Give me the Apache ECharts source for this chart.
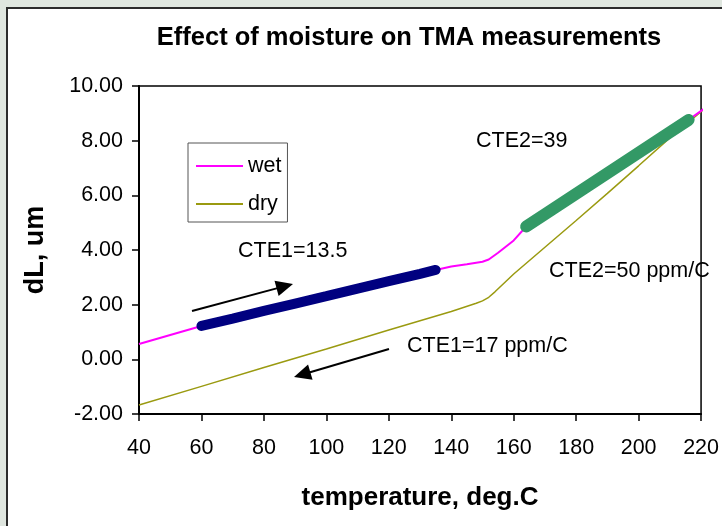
<!DOCTYPE html>
<html>
<head>
<meta charset="utf-8">
<script src="https://cdn.jsdelivr.net/npm/echarts@6/dist/echarts.min.js"></script>
<style>
html,body{margin:0;padding:0;background:#dfe6df;}
#chart{width:722px;height:526px;}
</style>
</head>
<body>
<div id="chart"></div>
<script>
// ---- data ----
var xTicks = [40, 60, 80, 100, 120, 140, 160, 180, 200, 220];
var yTicks = [-2, 0, 2, 4, 6, 8, 10];

var wetTemp = [40, 50, 60, 70, 80, 90, 100, 110, 120, 130, 135, 140, 145, 150, 152, 155, 160, 164, 170, 180, 190, 200, 210, 216, 221.6];
var wetDL   = [0.56, 0.89, 1.22, 1.49, 1.77, 2.04, 2.31, 2.59, 2.86, 3.13, 3.27, 3.4, 3.48, 3.57, 3.65, 3.9, 4.35, 4.86, 5.31, 6.06, 6.81, 7.56, 8.31, 8.76, 9.22];

var dryTemp = [40, 60, 80, 100, 120, 140, 148, 150, 152, 154, 160, 170, 180, 190, 200, 210, 221.6];
var dryDL   = [-1.67, -0.99, -0.30, 0.38, 1.07, 1.75, 2.05, 2.14, 2.27, 2.47, 3.12, 4.1, 5.08, 6.07, 7.08, 8.1, 9.22];

var fit1Range = [60, 135];   // CTE1 fit region on wet curve
var fit2Range = [164, 216];  // CTE2 fit region on wet curve

var titleText = 'Effect of moisture on TMA measurements';
var xName = 'temperature, deg.C';
var yName = 'dL, um';
var notes = ['CTE1=13.5', 'CTE2=39', 'CTE2=50 ppm/C', 'CTE1=17 ppm/C'];

// ---- build ----
function pairs(xs, ys) { return xs.map(function (x, i) { return [x, ys[i]]; }); }
function subset(xs, ys, r) {
  var out = [];
  xs.forEach(function (x, i) { if (x >= r[0] && x <= r[1]) out.push([x, ys[i]]); });
  return out;
}
var FONT = 'Liberation Sans, Arial, sans-serif';

function arrow(x1, y1, x2, y2) {
  var dx = x2 - x1, dy = y2 - y1, L = Math.sqrt(dx * dx + dy * dy);
  var ux = dx / L, uy = dy / L, hl = 17, hw = 8;
  var bx = x2 - ux * hl, by = y2 - uy * hl;
  return [
    { type: 'line', z: 50, shape: { x1: x1, y1: y1, x2: bx + ux * 2, y2: by + uy * 2 }, style: { stroke: '#000', lineWidth: 2 } },
    { type: 'polygon', z: 50, shape: { points: [[x2, y2], [bx - uy * hw, by + ux * hw], [bx + uy * hw, by - ux * hw]] }, style: { fill: '#000' } }
  ];
}

var chart = echarts.init(document.getElementById('chart'), null, { renderer: 'canvas' });

var noteFont = '21.5px ' + FONT;
var graphics = [
  { type: 'rect', z: -10, shape: { x: 7, y: 8, width: 800, height: 600 }, style: { fill: '#fff', stroke: '#2b2b2b', lineWidth: 2 } },
  { type: 'text', z: 50, x: 409, y: 38, style: { text: titleText, font: 'bold 25.5px ' + FONT, fill: '#000', textAlign: 'center', textVerticalAlign: 'middle' } },
  { type: 'text', z: 50, x: 238, y: 251, style: { text: notes[0], font: noteFont, fill: '#000', textVerticalAlign: 'middle' } },
  { type: 'text', z: 50, x: 476, y: 141, style: { text: notes[1], font: noteFont, fill: '#000', textVerticalAlign: 'middle' } },
  { type: 'text', z: 50, x: 549, y: 271, style: { text: notes[2], font: noteFont, fill: '#000', textVerticalAlign: 'middle' } },
  { type: 'text', z: 50, x: 407, y: 346, style: { text: notes[3], font: noteFont, fill: '#000', textVerticalAlign: 'middle' } }
].concat(arrow(192, 311, 293, 284)).concat(arrow(389, 349, 294, 377));

chart.setOption({
  backgroundColor: '#dfe6df',
  animation: false,
  grid: { left: 139, right: 17, top: 86, bottom: 112, show: true, borderColor: '#000', borderWidth: 1.5, backgroundColor: 'transparent', containLabel: false },
  legend: {
    data: [{ name: 'wet', icon: 'rect' }, { name: 'dry', icon: 'rect' }],
    orient: 'vertical',
    left: 188, top: 143,
    padding: [11, 6, 6, 8],
    itemGap: 14,
    itemWidth: 47, itemHeight: 2,
    backgroundColor: '#fff',
    borderColor: '#555', borderWidth: 1,
    textStyle: { fontFamily: FONT, fontSize: 21.5, color: '#000', lineHeight: 24 }
  },
  xAxis: {
    type: 'value', min: xTicks[0], max: xTicks[xTicks.length - 1], interval: 20,
    name: xName, nameLocation: 'middle', nameGap: 71,
    nameTextStyle: { fontFamily: FONT, fontSize: 26, fontWeight: 'bold', color: '#000' },
    axisLine: { show: true, onZero: false, lineStyle: { color: '#000', width: 2 } },
    axisTick: { show: true, inside: false, length: 7, lineStyle: { color: '#000', width: 1.5 } },
    axisLabel: { fontFamily: FONT, fontSize: 21.5, color: '#000', margin: 23 },
    splitLine: { show: false }
  },
  yAxis: {
    type: 'value', min: yTicks[0], max: yTicks[yTicks.length - 1], interval: 2,
    name: yName, nameLocation: 'middle', nameGap: 90, nameRotate: 90,
    nameTextStyle: { fontFamily: FONT, fontSize: 27, fontWeight: 'bold', color: '#000' },
    axisLine: { show: true, onZero: false, lineStyle: { color: '#000', width: 2 } },
    axisTick: { show: true, inside: false, length: 7, lineStyle: { color: '#000', width: 1.5 } },
    axisLabel: { fontFamily: FONT, fontSize: 21.5, color: '#000', margin: 16, formatter: function (v) { return v.toFixed(2); } },
    splitLine: { show: false }
  },
  series: [
    { name: 'dry', type: 'line', data: pairs(dryTemp, dryDL), symbol: 'none', clip: false, z: 3, lineStyle: { color: '#9a9a10', width: 1.5 }, itemStyle: { color: '#9a9a10' } },
    { name: 'wet', type: 'line', data: pairs(wetTemp, wetDL), symbol: 'none', clip: false, z: 4, lineStyle: { color: '#ff00ff', width: 2 }, itemStyle: { color: '#ff00ff' } },
    { name: 'fit1', type: 'line', data: subset(wetTemp, wetDL, fit1Range), symbol: 'none', clip: false, z: 5, lineStyle: { color: '#000080', width: 10, cap: 'round' } },
    { name: 'fit2', type: 'line', data: subset(wetTemp, wetDL, fit2Range), symbol: 'none', clip: false, z: 5, lineStyle: { color: '#339966', width: 12, cap: 'round' } }
  ],
  graphic: graphics
});
</script>
</body>
</html>
